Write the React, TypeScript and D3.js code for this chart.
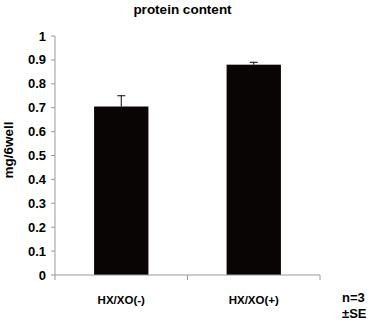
import React from "react";
import * as d3 from "d3";

const categories = ["HX/XO(-)", "HX/XO(+)"];
const values = [0.705, 0.88];
const errors = [0.045, 0.01];
const yTicks = [0, 0.1, 0.2, 0.3, 0.4, 0.5, 0.6, 0.7, 0.8, 0.9, 1];
const title = "protein content";
const yLabel = "mg/6well";
const notes = ["n=3", "±SE"];

export default function App() {
  const W = 378, H = 335;
  const left = 55, right = 320, top = 36, bottom = 275;
  const x = d3.scaleBand<string>().domain(categories).range([left, right]).paddingInner(0).paddingOuter(0);
  const y = d3.scaleLinear().domain([0, 1]).range([bottom, top]);
  const barW = x.bandwidth() * 0.41;
  const font = "Liberation Sans, Arial, sans-serif";
  const axisColor = "#9a9a9a";
  return (
    <svg width={W} height={H} style={{ position: "absolute", left: 0, top: 0, background: "#fff" }} fontFamily={font}>
      <text x={182.5} y={14} textAnchor="middle" fontSize={13.5} fontWeight="bold">{title}</text>
      <text transform={`translate(13,${150}) rotate(-90)`} textAnchor="middle" fontSize={13.5} fontWeight="bold">{yLabel}</text>
      {values.map((v, i) => {
        const cx = x(categories[i])! + x.bandwidth() / 2;
        return (
          <g key={i}>
            <rect x={cx - barW / 2} y={y(v)} width={barW} height={y(0) - y(v)} fill="#0a0505" />
            <line x1={cx} x2={cx} y1={y(v)} y2={y(v + errors[i])} stroke="#0a0505" strokeWidth={1} />
            <line x1={cx - 4} x2={cx + 4} y1={y(v + errors[i])} y2={y(v + errors[i])} stroke="#0a0505" strokeWidth={1} />
          </g>
        );
      })}
      <line x1={left} x2={left} y1={top} y2={bottom} stroke={axisColor} strokeWidth={1} />
      {yTicks.map((t) => (
        <g key={t}>
          <line x1={left - 4} x2={left} y1={y(t)} y2={y(t)} stroke={axisColor} />
          <text x={left - 9} y={y(t)} dy="0.35em" textAnchor="end" fontSize={13} fontWeight="bold">{d3.format("~g")(t)}</text>
        </g>
      ))}
      <line x1={left} x2={right} y1={bottom} y2={bottom} stroke={axisColor} strokeWidth={1} />
      {[left, ...categories.map((c) => x(c)! + x.bandwidth())].map((px, i) => (
        <line key={i} x1={px} x2={px} y1={bottom} y2={bottom + 5} stroke={axisColor} />
      ))}
      {categories.map((c) => (
        <text key={c} x={x(c)! + x.bandwidth() / 2} y={304} textAnchor="middle" fontSize={11.5} fontWeight="bold">{c}</text>
      ))}
      <text x={342} y={302} fontSize={13} fontWeight="bold">{notes[0]}</text>
      <text x={342} y={318} fontSize={13} fontWeight="bold">{notes[1]}</text>
    </svg>
  );
}
